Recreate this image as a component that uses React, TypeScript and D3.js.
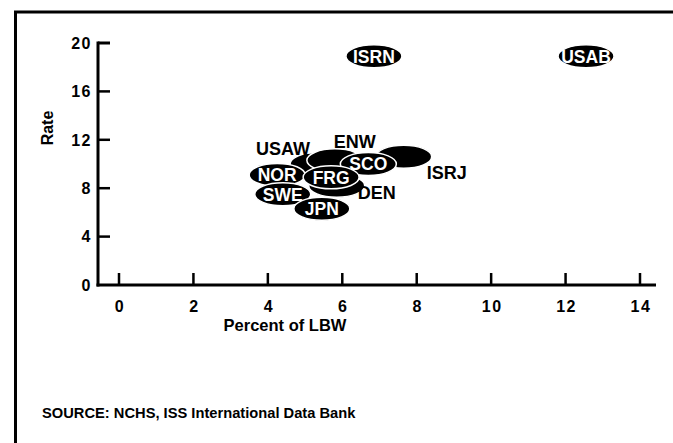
import React from "react";
import * as d3 from "d3";

// ---- data ----
const countries = ["ISRN", "USAB", "USAW", "ENW", "ISRJ", "DEN", "SCO", "NOR", "FRG", "SWE", "JPN"];
const percentLBW = [6.85, 12.55, 5.35, 5.8, 7.65, 5.85, 6.7, 4.25, 5.7, 4.4, 5.45];
const rates = [18.9, 18.9, 10.0, 10.3, 10.6, 8.2, 10.0, 9.1, 8.9, 7.5, 6.3];
const labelInside = [true, true, false, false, false, false, true, true, true, true, true];
const xTicks = [0, 2, 4, 6, 8, 10, 12, 14];
const yTicks = [0, 4, 8, 12, 16, 20];

// label placement for labels drawn outside their ellipse (pixel offsets)
const outsideOffset: Record<string, [number, number]> = {
  USAW: [-35, -15],
  ENW: [20, -19],
  ISRJ: [43, 16],
  DEN: [40, 7],
};

const W = 673;
const H = 443;
const FONT = "'Liberation Sans', Arial, Helvetica, sans-serif";

export default function App() {
  const x = d3.scaleLinear().domain([0, 14]).range([119, 640]);
  const y = d3.scaleLinear().domain([0, 20]).range([285, 43]);
  const axisX = 98;
  const rx = 28;
  const ry = 11.5;

  const pts = countries.map((c, i) => ({
    c,
    cx: x(percentLBW[i]),
    cy: y(rates[i]),
    inside: labelInside[i],
  }));

  return (
    <svg
      width={W}
      height={H}
      style={{ position: "absolute", left: 0, top: 0, background: "#fff" }}
      fontFamily={FONT}
    >
      <rect x={0} y={0} width={W} height={H} fill="#fff" />
      {/* frame */}
      <line x1={14} y1={12} x2={W} y2={12} stroke="#000" strokeWidth={3} />
      <line x1={15.5} y1={11} x2={15.5} y2={H} stroke="#000" strokeWidth={3} />

      {/* axes */}
      <line x1={axisX} y1={y(20) - 1.5} x2={axisX} y2={y(0) + 1.5} stroke="#000" strokeWidth={3} />
      <line x1={axisX - 1.5} y1={y(0)} x2={656} y2={y(0)} stroke="#000" strokeWidth={3} />
      {yTicks.filter((t) => t > 0).map((t) => (
        <line key={"yt" + t} x1={axisX} y1={y(t)} x2={axisX + 12} y2={y(t)} stroke="#000" strokeWidth={t === 20 ? 3 : 2.5} />
      ))}
      {yTicks.map((t) => (
        <text key={"yl" + t} x={axisX - 6} y={y(t)} dy="0.36em" textAnchor="end" fontSize={16} fontWeight="bold" letterSpacing={1.5}>
          {t}
        </text>
      ))}
      {xTicks.map((t) => (
        <line key={"xt" + t} x1={x(t)} y1={y(0)} x2={x(t)} y2={y(0) - 12} stroke="#000" strokeWidth={2.5} />
      ))}
      {xTicks.map((t) => (
        <text key={"xl" + t} x={x(t) + 1} y={306} dy="0.36em" textAnchor="middle" fontSize={16} fontWeight="bold" letterSpacing={1.5}>
          {t}
        </text>
      ))}
      <text x={285} y={325} dy="0.36em" textAnchor="middle" fontSize={16.5} fontWeight="bold">
        Percent of LBW
      </text>
      <text transform={`translate(47,128) rotate(-90)`} dy="0.36em" textAnchor="middle" fontSize={16} fontWeight="bold">
        Rate
      </text>

      {/* ellipses */}
      {pts.map((p) => (
        <ellipse key={"e" + p.c} cx={p.cx} cy={p.cy} rx={rx} ry={ry} fill="#000" stroke="#fff" strokeWidth={1.5} />
      ))}
      {pts.map((p) =>
        p.inside ? (
          <text key={"t" + p.c} x={p.cx} y={p.cy} dy="0.36em" textAnchor="middle" fill="#fff" fontSize={17.5} fontWeight="bold">
            {p.c}
          </text>
        ) : (
          <text
            key={"t" + p.c}
            x={p.cx + outsideOffset[p.c][0]}
            y={p.cy + outsideOffset[p.c][1]}
            dy="0.36em"
            textAnchor="middle"
            fill="#000"
            fontSize={18}
            fontWeight="bold"
          >
            {p.c}
          </text>
        )
      )}

      <text x={42} y={413} dy="0.36em" fontSize={14.7} fontWeight="bold">
        SOURCE: NCHS, ISS International Data Bank
      </text>
    </svg>
  );
}
